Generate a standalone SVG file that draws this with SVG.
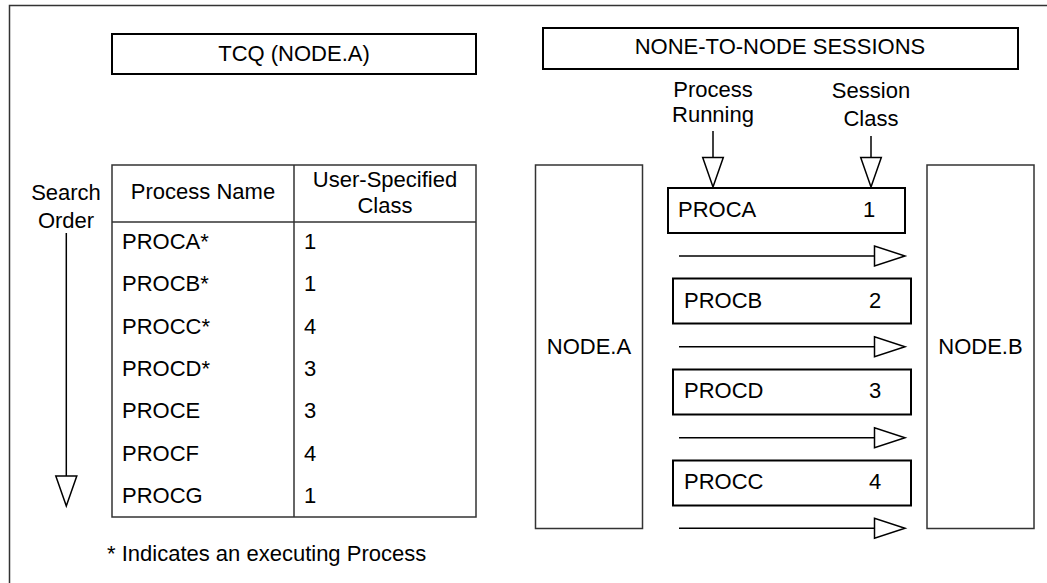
<svg xmlns="http://www.w3.org/2000/svg" width="1047" height="583" viewBox="0 0 1047 583">
<style>
text{font-family:"Liberation Sans",Arial,sans-serif;font-size:22px;fill:#000}
.c{text-anchor:middle}
.thin{fill:none;stroke:#333;stroke-width:1.5}
.bold{fill:#fff;stroke:#000;stroke-width:2}
.ln{fill:none;stroke:#000;stroke-width:1.5}
.tri{fill:#fff;stroke:#000;stroke-width:1.5;stroke-linejoin:miter}
</style>
<rect width="1047" height="583" fill="#fff"/>
<path class="thin" d="M9.5,583 V5.5 H1047"/>

<g id="tcq-title">
<rect class="bold" x="112" y="34" width="364" height="40"/>
<text class="c" x="294" y="61">TCQ (NODE.A)</text>
</g>

<g id="table">
<rect class="thin" x="112" y="165" width="364" height="352"/>
<line class="thin" x1="112" y1="222" x2="476" y2="222"/>
<line class="thin" x1="294" y1="165" x2="294" y2="517"/>
<text class="c" x="203" y="199">Process Name</text>
<text class="c" x="385" y="187">User-Specified</text>
<text class="c" x="385" y="213">Class</text>
<text x="122" y="249">PROCA*</text><text x="304" y="249">1</text>
<text x="122" y="291">PROCB*</text><text x="304" y="291">1</text>
<text x="122" y="334">PROCC*</text><text x="304" y="334">4</text>
<text x="122" y="376">PROCD*</text><text x="304" y="376">3</text>
<text x="122" y="418">PROCE</text><text x="304" y="418">3</text>
<text x="122" y="461">PROCF</text><text x="304" y="461">4</text>
<text x="122" y="503">PROCG</text><text x="304" y="503">1</text>
</g>

<g id="search-order">
<text class="c" x="66" y="200">Search</text>
<text class="c" x="66" y="228">Order</text>
</g>

<g id="footnote">
<text x="107" y="561">* Indicates an executing Process</text>
</g>

<g id="sessions-title">
<rect class="bold" x="543" y="28" width="475" height="41"/>
<text class="c" x="780" y="54">NONE-TO-NODE SESSIONS</text>
</g>

<g id="label-process">
<text class="c" x="713" y="97">Process</text>
<text class="c" x="713" y="122">Running</text>
</g>
<g id="label-session">
<text class="c" x="871" y="98">Session</text>
<text class="c" x="871" y="126">Class</text>
</g>

<g id="node-a">
<rect class="thin" x="535.5" y="165" width="107" height="363.5"/>
<text class="c" x="589" y="354">NODE.A</text>
</g>
<g id="node-b">
<rect class="thin" x="927" y="165" width="107" height="363.5"/>
<text class="c" x="980.5" y="354">NODE.B</text>
</g>

<g id="session-proca">
<rect class="bold" x="668" y="188" width="237" height="45"/>
<text x="678" y="217">PROCA</text>
<text class="c" x="869" y="217">1</text>
</g>
<g id="session-procb">
<rect class="bold" x="673" y="278.5" width="238" height="45"/>
<text x="684" y="308">PROCB</text>
<text class="c" x="875" y="308">2</text>
</g>
<g id="session-procd">
<rect class="bold" x="673" y="369.5" width="238" height="45"/>
<text x="684" y="398">PROCD</text>
<text class="c" x="875" y="398">3</text>
</g>
<g id="session-procc">
<rect class="bold" x="673" y="460.5" width="238" height="45"/>
<text x="684" y="489">PROCC</text>
<text class="c" x="875" y="489">4</text>
</g>

<g id="connectors">
<line class="ln" x1="66.3" y1="233" x2="66.3" y2="476"/>
<polygon class="tri" points="55.8,476 76.8,476 66.3,506"/>

<line class="ln" x1="713" y1="131" x2="713" y2="157.5"/>
<polygon class="tri" points="702.7,157.5 723.3,157.5 713,187"/>
<line class="ln" x1="871" y1="136" x2="871" y2="157.5"/>
<polygon class="tri" points="860.7,157.5 881.3,157.5 871,187"/>

<line class="ln" x1="679" y1="256" x2="874.5" y2="256"/>
<polygon class="tri" points="874.5,246 874.5,266 905,256"/>
<line class="ln" x1="679" y1="346.7" x2="874.5" y2="346.7"/>
<polygon class="tri" points="874.5,336.7 874.5,356.7 905,346.7"/>
<line class="ln" x1="679" y1="437.7" x2="874.5" y2="437.7"/>
<polygon class="tri" points="874.5,427.7 874.5,447.7 905,437.7"/>
<line class="ln" x1="679" y1="528.3" x2="874.5" y2="528.3"/>
<polygon class="tri" points="874.5,518.3 874.5,538.3 905,528.3"/>
</g>
</svg>
